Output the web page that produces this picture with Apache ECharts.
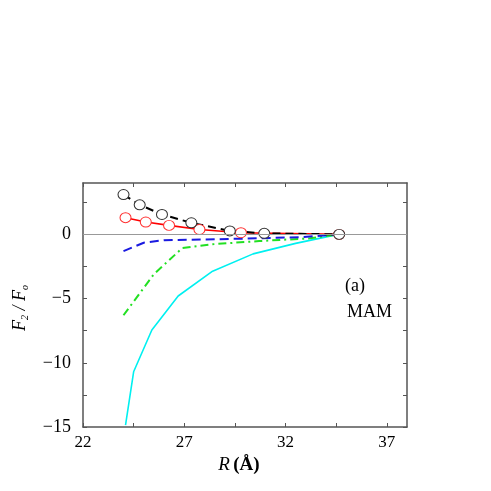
<!DOCTYPE html>
<html>
<head>
<meta charset="utf-8">
<script src="https://cdn.jsdelivr.net/npm/echarts@6/dist/echarts.min.js"></script>
<style>
  html, body { margin: 0; padding: 0; background: #fff; }
  #chart { width: 491px; height: 491px; }
</style>
</head>
<body>
<div id="chart"></div>
<script>
// R (Å) / F2/Fo readings
const blackR = [24.0, 24.8, 25.9, 27.35, 29.25, 30.95, 34.65]
const blackF = [3.1, 2.3, 1.55, 0.9, 0.27, 0.08, 0.0]

const redR = [24.1, 25.1, 26.25, 27.75, 29.8, 34.65]
const redF = [1.3, 0.96, 0.7, 0.38, 0.13, 0.0]

const blueR = [24.0, 25.0, 26.0, 28.0, 30.0, 32.9, 34.6]
const blueF = [-1.3, -0.65, -0.45, -0.4, -0.33, -0.21, 0.0]

const greenR = [24.0, 25.5, 26.9, 28.3, 30.7, 33.2, 34.6]
const greenF = [-6.3, -3.1, -1.07, -0.78, -0.52, -0.31, 0.0]

const cyanR = [24.1, 24.5, 25.4, 26.7, 28.4, 30.4, 32.5, 34.6]
const cyanF = [-14.85, -10.7, -7.45, -4.8, -2.87, -1.52, -0.7, 0.0]

const xTicks = [22, 24.5, 27, 29.5, 32, 34.5, 37]
const xLabels = [22, 27, 32, 37]
const yTicks = [-15, -12.5, -10, -7.5, -5, -2.5, 0, 2.5]
const yLabels = [-15, -10, -5, 0]

const pairs = (xs, ys) => xs.map((x, i) => [x, ys[i]])

const font = 'Liberation Serif'
const frame = '#555'

const baseX = {
  type: 'value',
  min: 22,
  max: 38,
  axisLine: { show: true, onZero: false, lineStyle: { color: frame, width: 1.5 } },
  axisTick: { show: true, inside: true, length: 4, customValues: xTicks, lineStyle: { color: frame } },
  splitLine: { show: false },
}
const baseY = {
  type: 'value',
  min: -15,
  max: 4,
  axisLine: { show: true, onZero: false, lineStyle: { color: frame, width: 1.5 } },
  axisTick: { show: true, inside: true, length: 4, customValues: yTicks, lineStyle: { color: frame } },
  splitLine: { show: false },
}

const chart = echarts.init(document.getElementById('chart'))

const option = {
  animation: false,
  backgroundColor: '#fff',
  grid: { left: 83, top: 183, width: 324, height: 244 },
  xAxis: [
    {
      ...baseX,
      position: 'bottom',
      axisLabel: {
        customValues: xLabels,
        color: '#000',
        fontFamily: font,
        fontSize: 17,
        margin: 7,
      },
    },
    { ...baseX, position: 'top', axisLabel: { show: false } },
  ],
  yAxis: [
    {
      ...baseY,
      position: 'left',
      axisLabel: {
        customValues: yLabels,
        color: '#000',
        fontFamily: font,
        fontSize: 18,
        margin: 12,
        formatter: v => (v < 0 ? '\u2212' + Math.abs(v) : String(v)),
      },
    },
    { ...baseY, position: 'right', axisLabel: { show: false } },
  ],
  graphic: [
    {
      type: 'text',
      left: 345,
      top: 277,
      style: { text: '(a)', font: '18px ' + font, fill: '#000' },
    },
    {
      type: 'text',
      left: 347,
      top: 303,
      style: { text: 'MAM', font: '18px ' + font, fill: '#000' },
    },
    {
      type: 'text',
      x: 239,
      y: 465,
      style: {
        text: '{i|R} {b|(Å)}',
        align: 'center',
        verticalAlign: 'middle',
        rich: {
          i: { fontFamily: font, fontStyle: 'italic', fontSize: 19, fill: '#000' },
          b: { fontFamily: font, fontWeight: 'bold', fontSize: 19, fill: '#000' },
        },
      },
    },
    {
      type: 'text',
      x: 20,
      y: 308,
      rotation: Math.PI / 2,
      style: {
        text: '{i|F}{s|2}{i| / F}{s|o}',
        align: 'center',
        verticalAlign: 'middle',
        rich: {
          i: { fontFamily: font, fontStyle: 'italic', fontSize: 18, fill: '#000', lineHeight: 20 },
          s: { fontFamily: font, fontStyle: 'italic', fontSize: 10, fill: '#000', lineHeight: 20, verticalAlign: 'bottom' },
        },
      },
    },
  ],
  series: [
    {
      name: 'cyan',
      type: 'line',
      data: pairs(cyanR, cyanF),
      showSymbol: false,
      lineStyle: { color: '#00f0f0', width: 1.6 },
      markLine: {
        silent: true,
        symbol: 'none',
        label: { show: false },
        lineStyle: { color: '#999', width: 1, type: 'solid' },
        data: [{ yAxis: 0 }],
      },
    },
    {
      name: 'green',
      type: 'line',
      data: pairs(greenR, greenF),
      showSymbol: false,
      lineStyle: { color: '#22e022', width: 2, type: [8, 4, 2, 4] },
    },
    {
      name: 'blue',
      type: 'line',
      data: pairs(blueR, blueF),
      showSymbol: false,
      lineStyle: { color: '#1a1ae0', width: 2, type: [9, 5] },
    },
    {
      name: 'red',
      type: 'line',
      data: pairs(redR, redF),
      symbol: 'circle',
      symbolSize: [11, 10],
      itemStyle: { color: '#fff', borderColor: '#ff3030', borderWidth: 1 },
      lineStyle: { color: '#ff0000', width: 1.6 },
    },
    {
      name: 'black',
      type: 'line',
      data: pairs(blackR, blackF),
      symbol: 'circle',
      symbolSize: [11, 10],
      itemStyle: { color: '#fff', borderColor: '#333', borderWidth: 1 },
      lineStyle: { color: '#000', width: 2, type: [8, 5] },
    },
  ],
}

chart.setOption(option)
</script>
</body>
</html>
